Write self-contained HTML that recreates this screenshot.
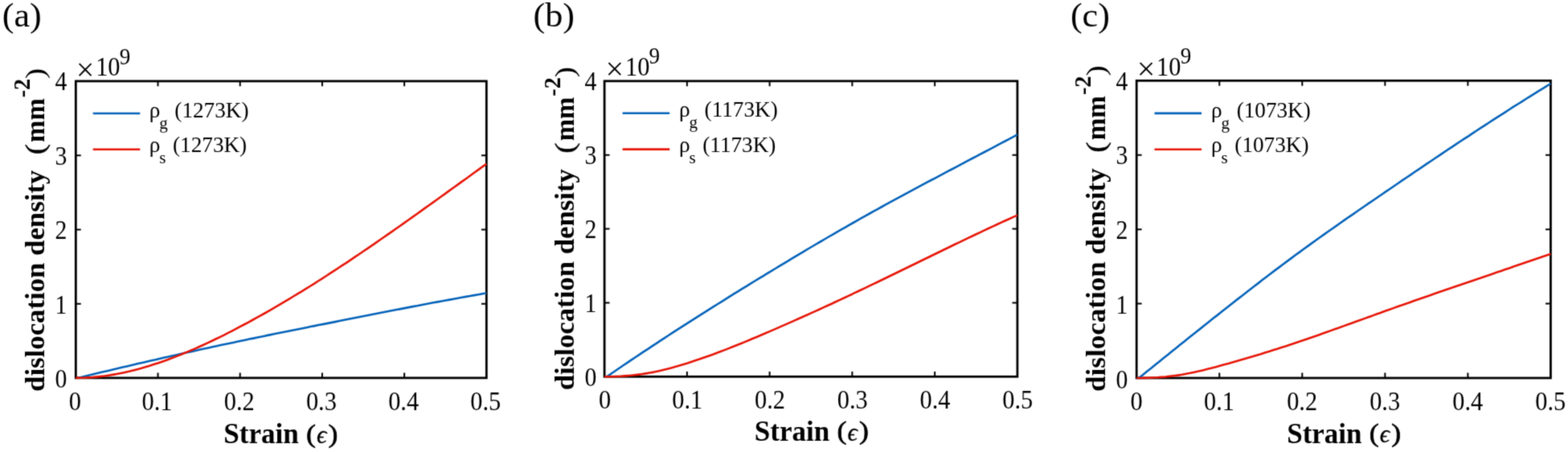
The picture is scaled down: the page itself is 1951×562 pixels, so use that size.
<!DOCTYPE html>
<html lang="en">
<head>
<meta charset="utf-8">
<title>Dislocation density vs strain</title>
<style>
html,body{margin:0;padding:0;background:#fff;}
body{width:1951px;height:562px;overflow:hidden;}
svg{display:block;}
text{font-family:"Liberation Serif","DejaVu Serif",serif;fill:#000;}
</style>
</head>
<body>
<svg width="1951" height="562" viewBox="0 0 1951 562">
<defs><filter id="soft" color-interpolation-filters="sRGB" x="0" y="0" width="1951" height="562" filterUnits="userSpaceOnUse"><feConvolveMatrix order="3" kernelMatrix="0.0256 0.1088 0.0256 0.1088 0.4624 0.1088 0.0256 0.1088 0.0256" divisor="1" edgeMode="duplicate" preserveAlpha="false"/></filter></defs>
<rect width="1951" height="562" fill="#fff"/>
<g filter="url(#soft)">
<g id="panel-a">
<rect x="94.3" y="100.9" width="511.00" height="369.00" fill="none" stroke="#000" stroke-width="2.8"/>
<path d="M196.50,469.9v-6.4M196.50,100.9v6.4M298.70,469.9v-6.4M298.70,100.9v6.4M400.90,469.9v-6.4M400.90,100.9v6.4M503.10,469.9v-6.4M503.10,100.9v6.4M94.3,377.65h6.4M605.3,377.65h-6.4M94.3,285.40h6.4M605.3,285.40h-6.4M94.3,193.15h6.4M605.3,193.15h-6.4" stroke="#000" stroke-width="2" fill="none"/>
<path d="M96.9,469.9 L101.9,468.7 L107.0,467.4 L112.1,466.2 L117.2,465.0 L122.3,463.8 L127.4,462.6 L132.4,461.4 L137.5,460.2 L142.6,459.0 L147.7,457.8 L152.8,456.6 L157.9,455.4 L163.0,454.2 L168.0,453.0 L173.1,451.8 L178.2,450.7 L183.3,449.5 L188.4,448.3 L193.5,447.2 L198.5,446.0 L203.6,444.8 L208.7,443.7 L213.8,442.5 L218.9,441.4 L224.0,440.3 L229.1,439.1 L234.1,438.0 L239.2,436.9 L244.3,435.8 L249.4,434.6 L254.5,433.5 L259.6,432.4 L264.6,431.3 L269.7,430.2 L274.8,429.1 L279.9,428.0 L285.0,427.0 L290.1,425.9 L295.1,424.8 L300.2,423.7 L305.3,422.7 L310.4,421.6 L315.5,420.6 L320.6,419.5 L325.7,418.5 L330.7,417.4 L335.8,416.4 L340.9,415.3 L346.0,414.3 L351.1,413.3 L356.2,412.3 L361.2,411.2 L366.3,410.2 L371.4,409.2 L376.5,408.2 L381.6,407.2 L386.7,406.1 L391.8,405.1 L396.8,404.1 L401.9,403.1 L407.0,402.1 L412.1,401.1 L417.2,400.1 L422.3,399.0 L427.3,398.0 L432.4,397.0 L437.5,396.0 L442.6,395.0 L447.7,394.0 L452.8,393.0 L457.9,392.0 L462.9,391.0 L468.0,390.0 L473.1,389.0 L478.2,388.0 L483.3,387.0 L488.4,386.0 L493.4,385.0 L498.5,384.1 L503.6,383.1 L508.7,382.1 L513.8,381.1 L518.9,380.2 L523.9,379.2 L529.0,378.3 L534.1,377.3 L539.2,376.3 L544.3,375.4 L549.4,374.5 L554.5,373.5 L559.5,372.6 L564.6,371.7 L569.7,370.7 L574.8,369.8 L579.9,368.9 L585.0,368.0 L590.0,367.1 L595.1,366.2 L600.2,365.3 L605.3,364.5" fill="none" stroke="#0462b9" stroke-width="2.6" stroke-linejoin="round"/>
<path d="M94.3,469.9 L99.4,469.8 L104.5,469.7 L109.6,469.4 L114.7,469.1 L119.8,468.6 L125.0,468.1 L130.1,467.5 L135.2,466.7 L140.3,465.9 L145.4,465.0 L150.5,464.0 L155.6,462.9 L160.7,461.8 L165.8,460.5 L170.9,459.2 L176.1,457.8 L181.2,456.3 L186.3,454.8 L191.4,453.1 L196.5,451.4 L201.6,449.7 L206.7,447.9 L211.8,446.0 L216.9,444.1 L222.0,442.1 L227.2,440.0 L232.3,437.9 L237.4,435.8 L242.5,433.6 L247.6,431.3 L252.7,429.0 L257.8,426.6 L262.9,424.2 L268.0,421.8 L273.1,419.3 L278.3,416.8 L283.4,414.2 L288.5,411.6 L293.6,408.9 L298.7,406.2 L303.8,403.5 L308.9,400.8 L314.0,398.0 L319.1,395.2 L324.2,392.4 L329.4,389.5 L334.5,386.6 L339.6,383.6 L344.7,380.7 L349.8,377.7 L354.9,374.7 L360.0,371.6 L365.1,368.5 L370.2,365.4 L375.4,362.3 L380.5,359.2 L385.6,356.0 L390.7,352.8 L395.8,349.5 L400.9,346.3 L406.0,343.0 L411.1,339.7 L416.2,336.4 L421.3,333.0 L426.4,329.7 L431.6,326.3 L436.7,322.9 L441.8,319.4 L446.9,316.0 L452.0,312.5 L457.1,309.1 L462.2,305.6 L467.3,302.1 L472.4,298.5 L477.5,295.0 L482.7,291.4 L487.8,287.9 L492.9,284.3 L498.0,280.7 L503.1,277.1 L508.2,273.5 L513.3,269.9 L518.4,266.2 L523.5,262.6 L528.6,258.9 L533.8,255.3 L538.9,251.6 L544.0,248.0 L549.1,244.3 L554.2,240.6 L559.3,236.9 L564.4,233.3 L569.5,229.6 L574.6,225.9 L579.8,222.2 L584.9,218.5 L590.0,214.8 L595.1,211.1 L600.2,207.4 L605.3,203.8" fill="none" stroke="#e61507" stroke-width="2.6" stroke-linejoin="round"/>
<text transform="translate(93.30 510.40) scale(0.92 1)" font-size="33" text-anchor="middle">0</text>
<text transform="translate(195.50 510.40) scale(0.92 1)" font-size="33" text-anchor="middle">0.1</text>
<text transform="translate(297.70 510.40) scale(0.92 1)" font-size="33" text-anchor="middle">0.2</text>
<text transform="translate(399.90 510.40) scale(0.92 1)" font-size="33" text-anchor="middle">0.3</text>
<text transform="translate(502.10 510.40) scale(0.92 1)" font-size="33" text-anchor="middle">0.4</text>
<text transform="translate(604.30 510.40) scale(0.92 1)" font-size="33" text-anchor="middle">0.5</text>
<text transform="translate(83.40 482.10) scale(0.9 1)" font-size="33" text-anchor="end">0</text>
<text transform="translate(83.40 389.57) scale(0.9 1)" font-size="33" text-anchor="end">1</text>
<text transform="translate(83.40 297.05) scale(0.9 1)" font-size="33" text-anchor="end">2</text>
<text transform="translate(83.40 204.52) scale(0.9 1)" font-size="33" text-anchor="end">3</text>
<text transform="translate(83.40 112.00) scale(0.9 1)" font-size="33" text-anchor="end">4</text>
<text transform="translate(94.80 100.00)" font-size="40">×</text>
<text transform="translate(119.20 94.10) scale(0.92 1)" font-size="33">10</text>
<text transform="translate(148.80 79.60) scale(0.95 1)" font-size="28.5">9</text>
<text transform="translate(278.30 551.40)" font-size="35" font-weight="bold">Strain</text>
<text transform="translate(380.90 549.90) scale(1.1 1)" font-size="32.5" stroke="#000" stroke-width="0.7">(</text>
<text transform="translate(393.90 551.20) scale(0.95 1)" font-size="32.5" font-family="DejaVu Serif, serif" font-style="italic" stroke="#000" stroke-width="0.3">ϵ</text>
<text transform="translate(408.40 549.90) scale(1.1 1)" font-size="32.5" stroke="#000" stroke-width="0.7">)</text>
<g transform="translate(54.90 486.90) rotate(-90) scale(1.0 1)" font-weight="bold" font-size="34.5"><text transform="scale(1.008 1)">dislocation density</text><text transform="translate(294.6 0) scale(1.15 1)" font-weight="normal" stroke="#000" stroke-width="0.4">(</text><text transform="translate(310.0 0) scale(0.95 1)">mm</text><text transform="translate(365.6 -18.0) scale(0.94 1)" font-size="30">-2</text><text transform="translate(389.0 0) scale(1.15 1)" font-weight="normal">)</text></g>
<path d="M115.70,141.00h58.6" stroke="#0462b9" stroke-width="2.6"/>
<text transform="translate(185.70 145.60)" font-size="27.2">ρ<tspan dy="14" dx="-1" font-size="21">g</tspan><tspan dy="-14" dx="1.8"> (1273K)</tspan></text>
<path d="M115.70,185.80h58.6" stroke="#e61507" stroke-width="2.6"/>
<text transform="translate(185.70 189.30)" font-size="27.2">ρ<tspan dy="14" dx="-1" font-size="21">s</tspan><tspan dy="-14" dx="1.8"> (1273K)</tspan></text>
<text transform="translate(2.70 32.80) scale(1.05 1)" font-size="42">(a)</text>
</g>
<g id="panel-b">
<rect x="752.1" y="100.8" width="513.80" height="367.50" fill="none" stroke="#000" stroke-width="2.8"/>
<path d="M854.86,468.3v-6.4M854.86,100.8v6.4M957.62,468.3v-6.4M957.62,100.8v6.4M1060.38,468.3v-6.4M1060.38,100.8v6.4M1163.14,468.3v-6.4M1163.14,100.8v6.4M752.1,376.43h6.4M1265.9,376.43h-6.4M752.1,284.55h6.4M1265.9,284.55h-6.4M752.1,192.68h6.4M1265.9,192.68h-6.4" stroke="#000" stroke-width="2" fill="none"/>
<path d="M755.2,468.3 L760.3,464.8 L765.4,461.3 L770.5,457.8 L775.6,454.3 L780.7,450.9 L785.8,447.4 L790.9,444.0 L796.0,440.6 L801.1,437.2 L806.3,433.8 L811.4,430.4 L816.5,427.1 L821.6,423.7 L826.7,420.4 L831.8,417.0 L836.9,413.7 L842.0,410.4 L847.1,407.1 L852.2,403.8 L857.3,400.6 L862.4,397.3 L867.5,394.1 L872.6,390.8 L877.8,387.6 L882.9,384.4 L888.0,381.2 L893.1,378.0 L898.2,374.8 L903.3,371.6 L908.4,368.4 L913.5,365.2 L918.6,362.1 L923.7,358.9 L928.8,355.8 L933.9,352.7 L939.0,349.5 L944.1,346.4 L949.3,343.3 L954.4,340.2 L959.5,337.1 L964.6,334.0 L969.7,330.9 L974.8,327.8 L979.9,324.8 L985.0,321.7 L990.1,318.6 L995.2,315.6 L1000.3,312.6 L1005.4,309.5 L1010.5,306.5 L1015.6,303.5 L1020.8,300.5 L1025.9,297.5 L1031.0,294.5 L1036.1,291.6 L1041.2,288.6 L1046.3,285.7 L1051.4,282.8 L1056.5,279.9 L1061.6,277.0 L1066.7,274.1 L1071.8,271.2 L1076.9,268.3 L1082.0,265.5 L1087.1,262.7 L1092.3,259.8 L1097.4,257.0 L1102.5,254.2 L1107.6,251.4 L1112.7,248.7 L1117.8,245.9 L1122.9,243.1 L1128.0,240.4 L1133.1,237.6 L1138.2,234.9 L1143.3,232.2 L1148.4,229.4 L1153.5,226.7 L1158.6,224.0 L1163.8,221.3 L1168.9,218.6 L1174.0,215.9 L1179.1,213.2 L1184.2,210.5 L1189.3,207.8 L1194.4,205.1 L1199.5,202.4 L1204.6,199.7 L1209.7,197.0 L1214.8,194.4 L1219.9,191.7 L1225.0,189.0 L1230.1,186.3 L1235.3,183.6 L1240.4,180.9 L1245.5,178.2 L1250.6,175.5 L1255.7,172.8 L1260.8,170.1 L1265.9,167.4" fill="none" stroke="#0462b9" stroke-width="2.6" stroke-linejoin="round"/>
<path d="M752.1,468.3 L757.2,468.3 L762.4,468.2 L767.5,468.0 L772.7,467.8 L777.8,467.4 L782.9,467.0 L788.1,466.5 L793.2,465.9 L798.3,465.2 L803.5,464.4 L808.6,463.5 L813.8,462.6 L818.9,461.5 L824.0,460.3 L829.2,459.0 L834.3,457.7 L839.4,456.3 L844.6,454.8 L849.7,453.3 L854.9,451.7 L860.0,450.0 L865.1,448.3 L870.3,446.6 L875.4,444.8 L880.6,443.0 L885.7,441.2 L890.8,439.3 L896.0,437.3 L901.1,435.4 L906.2,433.4 L911.4,431.3 L916.5,429.3 L921.7,427.2 L926.8,425.1 L931.9,423.0 L937.1,420.8 L942.2,418.7 L947.3,416.5 L952.5,414.3 L957.6,412.1 L962.8,409.9 L967.9,407.6 L973.0,405.4 L978.2,403.1 L983.3,400.9 L988.4,398.6 L993.6,396.3 L998.7,394.0 L1003.9,391.7 L1009.0,389.4 L1014.1,387.1 L1019.3,384.7 L1024.4,382.4 L1029.6,380.0 L1034.7,377.7 L1039.8,375.3 L1045.0,372.9 L1050.1,370.5 L1055.2,368.1 L1060.4,365.7 L1065.5,363.2 L1070.7,360.8 L1075.8,358.4 L1080.9,355.9 L1086.1,353.4 L1091.2,351.0 L1096.3,348.5 L1101.5,346.0 L1106.6,343.5 L1111.8,341.0 L1116.9,338.5 L1122.0,336.0 L1127.2,333.5 L1132.3,331.0 L1137.5,328.5 L1142.6,326.0 L1147.7,323.5 L1152.9,321.0 L1158.0,318.5 L1163.1,316.0 L1168.3,313.5 L1173.4,311.0 L1178.6,308.5 L1183.7,306.0 L1188.8,303.5 L1194.0,301.1 L1199.1,298.6 L1204.2,296.1 L1209.4,293.7 L1214.5,291.3 L1219.7,288.8 L1224.8,286.4 L1229.9,284.0 L1235.1,281.6 L1240.2,279.2 L1245.3,276.9 L1250.5,274.5 L1255.6,272.2 L1260.8,269.9 L1265.9,267.6" fill="none" stroke="#e61507" stroke-width="2.6" stroke-linejoin="round"/>
<text transform="translate(752.50 508.10) scale(0.92 1)" font-size="33" text-anchor="middle">0</text>
<text transform="translate(855.26 508.10) scale(0.92 1)" font-size="33" text-anchor="middle">0.1</text>
<text transform="translate(958.02 508.10) scale(0.92 1)" font-size="33" text-anchor="middle">0.2</text>
<text transform="translate(1060.78 508.10) scale(0.92 1)" font-size="33" text-anchor="middle">0.3</text>
<text transform="translate(1163.54 508.10) scale(0.92 1)" font-size="33" text-anchor="middle">0.4</text>
<text transform="translate(1266.30 508.10) scale(0.92 1)" font-size="33" text-anchor="middle">0.5</text>
<text transform="translate(742.40 480.30) scale(0.9 1)" font-size="33" text-anchor="end">0</text>
<text transform="translate(742.40 388.21) scale(0.9 1)" font-size="33" text-anchor="end">1</text>
<text transform="translate(742.40 296.12) scale(0.9 1)" font-size="33" text-anchor="end">2</text>
<text transform="translate(742.40 204.04) scale(0.9 1)" font-size="33" text-anchor="end">3</text>
<text transform="translate(742.40 111.95) scale(0.9 1)" font-size="33" text-anchor="end">4</text>
<text transform="translate(753.60 99.40)" font-size="40">×</text>
<text transform="translate(778.00 93.50) scale(0.92 1)" font-size="33">10</text>
<text transform="translate(807.60 79.00) scale(0.95 1)" font-size="28.5">9</text>
<text transform="translate(938.80 547.90)" font-size="35" font-weight="bold">Strain</text>
<text transform="translate(1041.40 546.40) scale(1.1 1)" font-size="32.5" stroke="#000" stroke-width="0.7">(</text>
<text transform="translate(1054.40 547.70) scale(0.95 1)" font-size="32.5" font-family="DejaVu Serif, serif" font-style="italic" stroke="#000" stroke-width="0.3">ϵ</text>
<text transform="translate(1068.90 546.40) scale(1.1 1)" font-size="32.5" stroke="#000" stroke-width="0.7">)</text>
<g transform="translate(714.00 485.30) rotate(-90) scale(1.0 1)" font-weight="bold" font-size="34.5"><text transform="scale(1.008 1)">dislocation density</text><text transform="translate(294.6 0) scale(1.15 1)" font-weight="normal" stroke="#000" stroke-width="0.4">(</text><text transform="translate(310.0 0) scale(0.95 1)">mm</text><text transform="translate(365.6 -17.2) scale(0.94 1)" font-size="30">-2</text><text transform="translate(389.0 0) scale(1.15 1)" font-weight="normal">)</text></g>
<path d="M774.60,140.80h58.6" stroke="#0462b9" stroke-width="2.6"/>
<text transform="translate(844.90 144.90)" font-size="27.2">ρ<tspan dy="14" dx="-1" font-size="21">g</tspan><tspan dy="-14" dx="1.8"> (1173K)</tspan></text>
<path d="M774.60,185.60h58.6" stroke="#e61507" stroke-width="2.6"/>
<text transform="translate(844.90 188.60)" font-size="27.2">ρ<tspan dy="14" dx="-1" font-size="21">s</tspan><tspan dy="-14" dx="1.8"> (1173K)</tspan></text>
<text transform="translate(663.50 32.80) scale(1.05 1)" font-size="42">(b)</text>
</g>
<g id="panel-c">
<rect x="1414.2" y="100.3" width="515.25" height="369.70" fill="none" stroke="#000" stroke-width="2.8"/>
<path d="M1517.25,470.0v-6.4M1517.25,100.3v6.4M1620.30,470.0v-6.4M1620.30,100.3v6.4M1723.35,470.0v-6.4M1723.35,100.3v6.4M1826.40,470.0v-6.4M1826.40,100.3v6.4M1414.2,377.57h6.4M1929.45,377.57h-6.4M1414.2,285.15h6.4M1929.45,285.15h-6.4M1414.2,192.73h6.4M1929.45,192.73h-6.4" stroke="#000" stroke-width="2" fill="none"/>
<path d="M1417.0,470.0 L1422.1,465.9 L1427.2,461.8 L1432.4,457.7 L1437.5,453.5 L1442.6,449.4 L1447.7,445.3 L1452.9,441.2 L1458.0,437.1 L1463.1,433.0 L1468.2,428.8 L1473.4,424.7 L1478.5,420.6 L1483.6,416.5 L1488.7,412.4 L1493.9,408.4 L1499.0,404.3 L1504.1,400.2 L1509.2,396.1 L1514.4,392.1 L1519.5,388.0 L1524.6,384.0 L1529.7,379.9 L1534.8,375.9 L1540.0,371.9 L1545.1,367.9 L1550.2,363.9 L1555.3,360.0 L1560.5,356.0 L1565.6,352.1 L1570.7,348.1 L1575.8,344.2 L1581.0,340.3 L1586.1,336.4 L1591.2,332.6 L1596.3,328.7 L1601.5,324.9 L1606.6,321.1 L1611.7,317.3 L1616.8,313.6 L1622.0,309.8 L1627.1,306.1 L1632.2,302.4 L1637.3,298.7 L1642.5,295.0 L1647.6,291.4 L1652.7,287.8 L1657.8,284.2 L1663.0,280.6 L1668.1,277.0 L1673.2,273.4 L1678.3,269.8 L1683.5,266.3 L1688.6,262.8 L1693.7,259.2 L1698.8,255.7 L1704.0,252.2 L1709.1,248.7 L1714.2,245.2 L1719.3,241.7 L1724.5,238.2 L1729.6,234.7 L1734.7,231.2 L1739.8,227.7 L1745.0,224.2 L1750.1,220.7 L1755.2,217.3 L1760.3,213.8 L1765.5,210.3 L1770.6,206.9 L1775.7,203.4 L1780.8,200.0 L1786.0,196.5 L1791.1,193.1 L1796.2,189.7 L1801.3,186.2 L1806.5,182.8 L1811.6,179.4 L1816.7,176.0 L1821.8,172.6 L1827.0,169.3 L1832.1,165.9 L1837.2,162.5 L1842.3,159.2 L1847.5,155.8 L1852.6,152.5 L1857.7,149.2 L1862.8,145.9 L1868.0,142.6 L1873.1,139.3 L1878.2,136.0 L1883.3,132.7 L1888.5,129.5 L1893.6,126.3 L1898.7,123.0 L1903.8,119.8 L1909.0,116.6 L1914.1,113.4 L1919.2,110.3 L1924.3,107.1 L1929.5,104.0" fill="none" stroke="#0462b9" stroke-width="2.6" stroke-linejoin="round"/>
<path d="M1414.2,470.0 L1419.4,470.0 L1424.5,469.9 L1429.7,469.7 L1434.8,469.5 L1440.0,469.3 L1445.1,468.9 L1450.3,468.5 L1455.4,467.9 L1460.6,467.3 L1465.7,466.6 L1470.9,465.8 L1476.0,464.8 L1481.2,463.8 L1486.3,462.7 L1491.5,461.6 L1496.6,460.4 L1501.8,459.1 L1506.9,457.8 L1512.1,456.4 L1517.2,455.0 L1522.4,453.6 L1527.6,452.2 L1532.7,450.8 L1537.9,449.3 L1543.0,447.8 L1548.2,446.3 L1553.3,444.8 L1558.5,443.3 L1563.6,441.7 L1568.8,440.2 L1573.9,438.6 L1579.1,437.0 L1584.2,435.3 L1589.4,433.7 L1594.5,432.0 L1599.7,430.4 L1604.8,428.7 L1610.0,427.0 L1615.1,425.3 L1620.3,423.5 L1625.5,421.8 L1630.6,420.0 L1635.8,418.2 L1640.9,416.4 L1646.1,414.6 L1651.2,412.8 L1656.4,410.9 L1661.5,409.1 L1666.7,407.3 L1671.8,405.4 L1677.0,403.5 L1682.1,401.7 L1687.3,399.8 L1692.4,398.0 L1697.6,396.1 L1702.7,394.2 L1707.9,392.4 L1713.0,390.5 L1718.2,388.7 L1723.3,386.8 L1728.5,385.0 L1733.7,383.1 L1738.8,381.3 L1744.0,379.5 L1749.1,377.7 L1754.3,375.9 L1759.4,374.1 L1764.6,372.3 L1769.7,370.5 L1774.9,368.7 L1780.0,366.9 L1785.2,365.1 L1790.3,363.3 L1795.5,361.6 L1800.6,359.8 L1805.8,358.0 L1810.9,356.2 L1816.1,354.5 L1821.2,352.7 L1826.4,351.0 L1831.6,349.2 L1836.7,347.4 L1841.9,345.7 L1847.0,343.9 L1852.2,342.2 L1857.3,340.4 L1862.5,338.6 L1867.6,336.9 L1872.8,335.1 L1877.9,333.4 L1883.1,331.6 L1888.2,329.8 L1893.4,328.1 L1898.5,326.3 L1903.7,324.5 L1908.8,322.8 L1914.0,321.0 L1919.1,319.2 L1924.3,317.4 L1929.5,315.7" fill="none" stroke="#e61507" stroke-width="2.6" stroke-linejoin="round"/>
<text transform="translate(1414.00 509.90) scale(0.92 1)" font-size="33" text-anchor="middle">0</text>
<text transform="translate(1517.05 509.90) scale(0.92 1)" font-size="33" text-anchor="middle">0.1</text>
<text transform="translate(1620.10 509.90) scale(0.92 1)" font-size="33" text-anchor="middle">0.2</text>
<text transform="translate(1723.15 509.90) scale(0.92 1)" font-size="33" text-anchor="middle">0.3</text>
<text transform="translate(1826.20 509.90) scale(0.92 1)" font-size="33" text-anchor="middle">0.4</text>
<text transform="translate(1929.25 509.90) scale(0.92 1)" font-size="33" text-anchor="middle">0.5</text>
<text transform="translate(1403.30 483.30) scale(0.9 1)" font-size="33" text-anchor="end">0</text>
<text transform="translate(1403.30 390.36) scale(0.9 1)" font-size="33" text-anchor="end">1</text>
<text transform="translate(1403.30 297.43) scale(0.9 1)" font-size="33" text-anchor="end">2</text>
<text transform="translate(1403.30 204.49) scale(0.9 1)" font-size="33" text-anchor="end">3</text>
<text transform="translate(1403.30 111.55) scale(0.9 1)" font-size="33" text-anchor="end">4</text>
<text transform="translate(1414.70 99.40)" font-size="40">×</text>
<text transform="translate(1439.10 93.50) scale(0.92 1)" font-size="33">10</text>
<text transform="translate(1468.70 79.00) scale(0.95 1)" font-size="28.5">9</text>
<text transform="translate(1601.20 550.60)" font-size="35" font-weight="bold">Strain</text>
<text transform="translate(1703.80 549.10) scale(1.1 1)" font-size="32.5" stroke="#000" stroke-width="0.7">(</text>
<text transform="translate(1716.80 550.40) scale(0.95 1)" font-size="32.5" font-family="DejaVu Serif, serif" font-style="italic" stroke="#000" stroke-width="0.3">ϵ</text>
<text transform="translate(1731.30 549.10) scale(1.1 1)" font-size="32.5" stroke="#000" stroke-width="0.7">)</text>
<g transform="translate(1374.80 487.00) rotate(-90) scale(1.009 1)" font-weight="bold" font-size="34.5"><text transform="scale(1.008 1)">dislocation density</text><text transform="translate(294.6 0) scale(1.15 1)" font-weight="normal" stroke="#000" stroke-width="0.4">(</text><text transform="translate(310.0 0) scale(0.95 1)">mm</text><text transform="translate(365.6 -17.6) scale(0.94 1)" font-size="30">-2</text><text transform="translate(389.0 0) scale(1.15 1)" font-weight="normal">)</text></g>
<path d="M1436.50,140.90h58.6" stroke="#0462b9" stroke-width="2.6"/>
<text transform="translate(1507.00 145.70)" font-size="27.2">ρ<tspan dy="14" dx="-1" font-size="21">g</tspan><tspan dy="-14" dx="1.8"> (1073K)</tspan></text>
<path d="M1436.50,185.70h58.6" stroke="#e61507" stroke-width="2.6"/>
<text transform="translate(1507.00 189.40)" font-size="27.2">ρ<tspan dy="14" dx="-1" font-size="21">s</tspan><tspan dy="-14" dx="1.8"> (1073K)</tspan></text>
<text transform="translate(1331.90 32.80) scale(1.05 1)" font-size="42">(c)</text>
</g>
</g>
</svg>
</body>
</html>
